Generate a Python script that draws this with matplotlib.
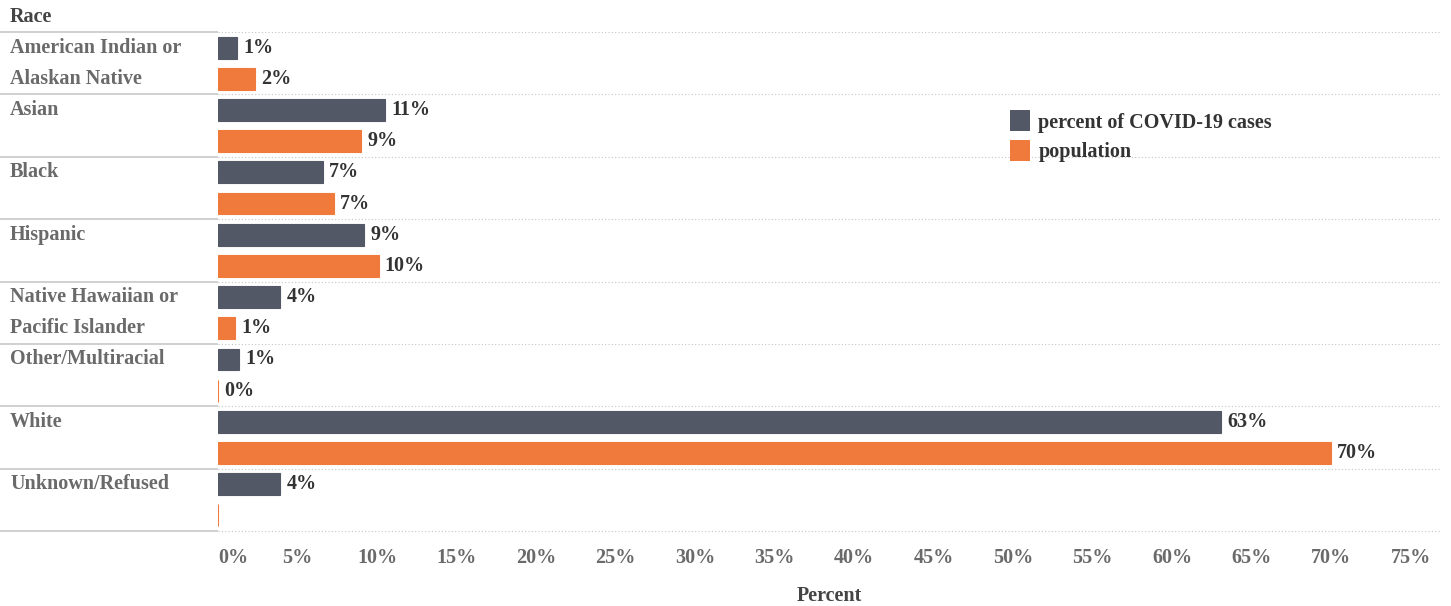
import matplotlib.pyplot as plt
from matplotlib.patches import Patch
import numpy as np

plt.rcParams['font.family'] = ['Liberation Serif', 'DejaVu Serif']
plt.rcParams['font.weight'] = 'bold'

races = ['American Indian or\nAlaskan Native', 'Asian', 'Black', 'Hispanic',
         'Native Hawaiian or\nPacific Islander', 'Other/Multiracial', 'White',
         'Unknown/Refused']
cases = [1.2, 10.5, 6.6, 9.2, 3.9, 1.3, 63.1, 3.9]
population = [2.3, 9.0, 7.3, 10.1, 1.1, 0.0, 70.0, 0.0]
cases_labels = ['1%', '11%', '7%', '9%', '4%', '1%', '63%', '4%']
pop_labels = ['2%', '9%', '7%', '10%', '1%', '0%', '70%', '']
xticks = [0, 5, 10, 15, 20, 25, 30, 35, 40, 45, 50, 55, 60, 65, 70, 75]

c_cases = '#525866'
c_pop = '#f07a3c'
grey_txt = '#6a6a6a'
fs = 14.5

fig = plt.figure(figsize=(14.51, 6.06), dpi=100)
ax = fig.add_axes([218 / 1451, 1 - 531 / 606, 1222 / 1451, 499 / 606])

y = np.arange(len(races))
h = 0.35
ax.barh(y + 0.25, cases, height=h, color=c_cases, edgecolor=c_cases, linewidth=0.8)
ax.barh(y + 0.75, population, height=h, color=c_pop, edgecolor=c_pop, linewidth=0.8)

for i in range(len(races)):
    ax.annotate(cases_labels[i], (cases[i], i + 0.25), xytext=(4.5, 0),
                textcoords='offset points', va='center', ha='left',
                fontsize=fs, color='#333333')
    if pop_labels[i]:
        ax.annotate(pop_labels[i], (population[i], i + 0.75), xytext=(4.5, 0),
                    textcoords='offset points', va='center', ha='left',
                    fontsize=fs, color='#333333')

ax.set_xlim(0, 1222 / 15.9)
ax.set_ylim(len(races), 0)

# row separators: solid in the header column, dotted across the plot
tr = ax.get_yaxis_transform()
left = -218 / 1222
for b in range(len(races) + 1):
    ax.plot([left, 0], [b, b], transform=tr, color='#c8c8c8', lw=1.2,
            clip_on=False, solid_capstyle='butt')
    ax.plot([0, 1], [b, b], transform=tr, color='#c4c4c4', lw=0.8,
            ls=(0, (1, 2)), clip_on=False)

# row labels
lx = (10 - 218) / 1222
for i, r in enumerate(races):
    for k, line in enumerate(r.split('\n')):
        ax.text(lx, i + 0.25 + 0.5 * k, line, transform=tr, ha='left',
                va='center', fontsize=fs, color=grey_txt)
ax.text(lx, -0.24, 'Race', transform=tr, ha='left', va='center',
        fontsize=fs, color='#444444')

ax.set_yticks([])
ax.set_xticks(xticks)
ax.set_xticklabels([f'{t}%' for t in xticks])
ax.tick_params(axis='x', length=0, pad=12, labelsize=fs, labelcolor=grey_txt)
ax.get_xticklabels()[0].set_horizontalalignment('left')
ax.set_xlabel('Percent', fontsize=fs, color='#444444', fontweight='bold', labelpad=13)
for s in ax.spines.values():
    s.set_visible(False)

handles = [Patch(facecolor=c_cases, edgecolor='none', label='percent of COVID-19 cases'),
           Patch(facecolor=c_pop, edgecolor='none', label='population')]
leg = fig.legend(handles=handles, loc='upper left', bbox_to_anchor=(992 / 1451, 1 - 92 / 606),
                 frameon=False, fontsize=fs, handlelength=1.0, handleheight=1.25,
                 handletextpad=0.4, labelspacing=0.35)
for t in leg.get_texts():
    t.set_color('#333333')

plt.savefig('out.png', dpi=100)
